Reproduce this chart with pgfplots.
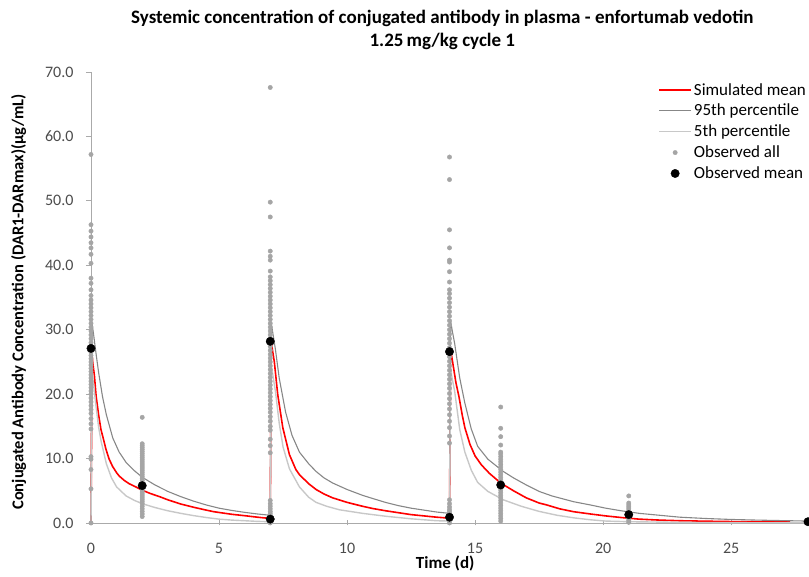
\documentclass[border=0pt]{standalone}
\usepackage{pgfplots}
\pgfplotsset{compat=1.18}
\usepackage{fontspec}
\setmainfont{Carlito}
\definecolor{simred}{RGB}{255,0,0}
\definecolor{p95}{RGB}{135,135,135}
\definecolor{p5}{RGB}{200,200,200}
\definecolor{obsall}{RGB}{165,165,165}
\definecolor{axgray}{RGB}{170,170,170}
\pgfplotsset{
  linelegend/.style={legend image code/.code={\draw[##1] (0pt,0pt) -- (32pt,0pt);}},
  marklegend/.style={legend image code/.code={\draw[mark repeat=2,mark phase=2,##1] plot coordinates {(0pt,0pt) (16pt,0pt) (32pt,0pt)};}},
}
\begin{document}
\begin{tikzpicture}
\begin{axis}[
  at={(0,0)}, anchor=south west,
  scale only axis, width=717pt, height=451pt,
  xmin=0, xmax=28, ymin=0, ymax=70,
  xtick={0,5,...,25}, ytick={0,10,...,70},
  axis lines*=left,
  axis line style={axgray, line width=0.8pt},
  tick style={axgray, line width=0.8pt},
  major tick length=5pt,
  xtick align=center, ytick align=outside,
  clip=false,
  /pgf/number format/assume math mode=true,
  yticklabel style={/pgf/number format/fixed, /pgf/number format/fixed zerofill, /pgf/number format/precision=1, anchor=east, xshift=-9pt},
  ticklabel style={font=\fontsize{16}{18}\selectfont, text=black!70},
  xticklabel style={anchor=center, yshift=-23pt},
  title={Systemic concentration of conjugated antibody in plasma - enfortumab vedotin\\1.25\,mg/kg cycle 1},
  title style={font=\bfseries\fontsize{19}{23}\selectfont, align=center, at={(0.49,1)}, anchor=south, yshift=12.5pt},
  xlabel={Time (d)},
  xlabel style={font=\bfseries\fontsize{17}{19}\selectfont, at={(axis description cs:0.494,-0.0904)}, anchor=center},
  ylabel={Conjugated Antibody Concentration (DAR1-DARmax)(µg/mL)},
  ylabel style={font=\bfseries\fontsize{16.5}{18}\selectfont, at={(axis description cs:-0.101,0.49)}, anchor=center},
  legend style={at={(0.791,1)}, anchor=north west, draw=none, fill=none, inner sep=0pt, row sep=3.6pt, font=\fontsize{17}{19}\selectfont, yshift=-9pt},
  legend cell align=left,
]
% Simulated mean
\addplot[simred, line width=1.6pt, linelegend] coordinates {
(0,0) (0.04,26) (0.08,24.5) (0.13,23.0) (0.2,19.7) (0.3,16.7) (0.39,14.5) (0.5,12.8) (0.58,11.5) (0.7,10.0) (0.84,8.8) (1.0,7.8) (1.1,7.3) (1.3,6.6) (1.49,6.1) (1.75,5.6) (2.0,5.1) (2.3,4.6) (2.67,4.1) (3.0,3.6) (3.5,2.95) (4.0,2.45) (4.5,2.0) (4.8,1.75) (5.5,1.35) (6.1,1.09) (6.5,0.9) (7.0,0.7)
(7.0,0.7) (7.04,28) (7.1,26.5) (7.16,25.0) (7.29,20.0) (7.49,14.8) (7.75,10.6) (8.0,8.3) (8.14,7.5) (8.5,6.1) (8.79,5.2) (9.1,4.5) (9.44,3.9) (10.0,3.2) (10.6,2.6) (11.0,2.25) (11.5,1.9) (12.0,1.6) (12.5,1.3) (13.0,1.1) (13.5,0.9) (14.0,0.75)
(14.04,27) (14.1,25.5) (14.15,24.3) (14.25,21.8) (14.37,19.6) (14.5,16.7) (14.6,14.8) (14.8,12.2) (15.0,10.4) (15.25,9.0) (15.56,7.7) (16.0,6.2) (16.5,5.0) (17.0,3.9) (17.5,3.1) (17.8,2.8) (18.3,2.2) (18.85,1.75) (19.5,1.4) (20.1,1.1) (20.7,0.85) (21.4,0.6) (22.2,0.45) (23,0.35) (24,0.28) (25,0.22) (26,0.18) (27.3,0.15)
};
\addlegendentry{Simulated mean}
% 95th percentile
\addplot[p95, line width=1.1pt, linelegend] coordinates {
(0,0) (0.04,31) (0.1,29.3) (0.2,26.2) (0.3,23.3) (0.45,19.6) (0.6,16.8) (0.85,13.2) (1.1,11.0) (1.37,9.4) (1.7,8.1) (2.0,7.1) (2.5,5.9) (3.0,4.9) (3.5,4.1) (4.0,3.4) (4.5,2.8) (5.0,2.3) (5.5,1.95) (6.0,1.65) (6.5,1.4) (7.0,1.2)
(7.04,31) (7.1,29.5) (7.2,27.0) (7.35,22.5) (7.6,17.2) (7.85,13.6) (8.14,11.0) (8.5,9.2) (8.79,8.0) (9.1,7.0) (9.44,6.2) (10.0,5.2) (10.6,4.3) (11,3.8) (11.5,3.2) (12.0,2.7) (12.5,2.3) (13.0,2.0) (13.5,1.7) (14.0,1.5)
(14.04,31.5) (14.1,30) (14.2,27.9) (14.4,22.5) (14.6,18.6) (14.85,14.6) (15.1,11.9) (15.5,9.9) (16.1,8.0) (16.5,7.0) (17.0,5.9) (17.5,4.9) (18.0,4.2) (18.85,3.3) (19.5,2.8) (20.1,2.3) (20.7,1.9) (21.4,1.5) (22.2,1.2) (23,0.9) (24,0.7) (25,0.55) (26,0.45) (27,0.37) (28,0.3)
};
\addlegendentry{95th percentile}
% 5th percentile
\addplot[p5, line width=1.4pt, linelegend] coordinates {
(0,0) (0.04,23.5) (0.1,21.5) (0.2,18) (0.3,14.8) (0.4,12.6) (0.6,9.2) (0.8,7.0) (1.0,5.6) (1.37,4.2) (1.7,3.5) (2.0,3.0) (2.5,2.4) (3.0,1.9) (3.5,1.5) (4.0,1.15) (4.5,0.85) (5.0,0.6) (5.5,0.45) (6.0,0.35) (6.5,0.25) (7.0,0.2)
(7.04,24.5) (7.1,23) (7.2,20.5) (7.35,15.5) (7.5,11.8) (7.75,8.4) (8.14,5.6) (8.5,4.0) (8.79,3.2) (9.2,2.6) (9.7,2.05) (10.6,1.5) (11.5,1.05) (12.5,0.65) (13.5,0.35) (14.0,0.3)
(14.04,24) (14.1,22.5) (14.2,20.5) (14.4,14.5) (14.6,11.0) (14.85,8.2) (15.1,6.3) (15.5,4.9) (16.1,3.6) (16.8,2.6) (17.5,1.8) (18.2,1.2) (18.85,0.8) (19.5,0.5) (20.1,0.3) (21,0.2) (22,0.15) (23,0.1) (25,0.05) (28,0.03)
};
\addlegendentry{5th percentile}
% Observed all
\addplot[only marks, mark=*, mark size=2.2pt, color=obsall, marklegend] coordinates {
(0,0.0) (0,5.3) (0,8.3) (0,9.9) (0,10.3) (0,14.6) (0,15.4) (0,16.2) (0,17.0) (0,17.6) (0,18.2) (0,18.8) (0,19.4) (0,20.0) (0,20.5) (0,21.0) (0,21.5) (0,22.0) (0,22.5) (0,23.0) (0,23.5) (0,24.0) (0,24.5) (0,25.0) (0,25.5) (0,26.0) (0,26.5) (0,27.0) (0,27.5) (0,28.0) (0,28.6) (0,29.2) (0,29.8) (0,30.4) (0,31.0) (0,31.6) (0,32.2) (0,32.8) (0,33.4) (0,34.0) (0,34.6) (0,35.3) (0,36.2) (0,37.2) (0,38.0) (0,40.3) (0,41.7) (0,42.7) (0,43.5) (0,44.4) (0,45.3) (0,46.3) (0,57.2)
(2,1.0) (2,1.4) (2,1.8) (2,2.2) (2,2.6) (2,3.0) (2,3.3) (2,3.6) (2,3.9) (2,4.2) (2,4.5) (2,4.8) (2,5.1) (2,5.4) (2,5.7) (2,6.0) (2,6.3) (2,6.6) (2,6.9) (2,7.2) (2,7.5) (2,7.8) (2,8.1) (2,8.4) (2,8.7) (2,9.0) (2,9.3) (2,9.6) (2,9.9) (2,10.2) (2,10.5) (2,10.8) (2,11.1) (2,11.4) (2,11.7) (2,12.0) (2,12.3) (2,16.4)
(7,0.0) (7,0.3) (7,0.6) (7,0.9) (7,1.2) (7,1.5) (7,1.8) (7,2.2) (7,2.6) (7,3.0) (7,3.5) (7,10.9) (7,12.0) (7,13.0) (7,14.4) (7,15.0) (7,15.8) (7,16.5) (7,17.2) (7,17.8) (7,18.4) (7,19.0) (7,19.6) (7,20.2) (7,20.8) (7,21.4) (7,22.0) (7,22.6) (7,23.2) (7,23.8) (7,24.4) (7,25.0) (7,25.6) (7,26.2) (7,26.8) (7,27.4) (7,28.0) (7,28.6) (7,29.2) (7,29.8) (7,30.4) (7,31.0) (7,31.6) (7,32.2) (7,32.8) (7,33.4) (7,34.0) (7,34.6) (7,35.2) (7,35.8) (7,36.4) (7,37.0) (7,37.6) (7,38.2) (7,39.1) (7,40.8) (7,41.4) (7,42.2) (7,47.5) (7,49.8) (7,67.6)
(14,0.0) (14,0.3) (14,0.6) (14,0.9) (14,1.2) (14,1.5) (14,1.8) (14,2.1) (14,2.5) (14,3.0) (14,3.6) (14,12.4) (14,13.5) (14,14.8) (14,15.8) (14,16.8) (14,17.7) (14,18.5) (14,19.3) (14,20.1) (14,20.9) (14,21.6) (14,22.3) (14,23.0) (14,23.7) (14,24.4) (14,25.1) (14,25.8) (14,26.5) (14,27.2) (14,27.9) (14,28.6) (14,29.3) (14,30.0) (14,30.7) (14,31.4) (14,32.1) (14,32.8) (14,33.5) (14,34.2) (14,34.9) (14,35.6) (14,36.2) (14,37.4) (14,39.0) (14,40.5) (14,40.8) (14,42.7) (14,45.5) (14,53.3) (14,56.8)
(16,0.3) (16,0.7) (16,1.1) (16,1.5) (16,1.9) (16,2.3) (16,2.7) (16,3.1) (16,3.5) (16,3.9) (16,4.3) (16,4.7) (16,5.1) (16,5.5) (16,5.9) (16,6.3) (16,6.7) (16,7.1) (16,7.5) (16,7.9) (16,8.3) (16,8.7) (16,9.1) (16,9.5) (16,9.9) (16,10.3) (16,10.7) (16,11.0) (16,12.1) (16,13.4) (16,14.7) (16,18.0)
(21,0.1) (21,0.4) (21,0.7) (21,1.0) (21,1.3) (21,1.6) (21,1.9) (21,2.2) (21,2.5) (21,2.8) (21,3.1) (21,4.2)
};
\addlegendentry{Observed all}
% Observed mean
\addplot[only marks, mark=*, mark size=4.2pt, color=black, marklegend] coordinates {
(0,27.1) (2,5.8) (7,0.6) (7,28.2) (14,0.9) (14,26.6) (16,5.9) (21,1.3) (28,0.2)
};
\addlegendentry{Observed mean}
\end{axis}
\pgfresetboundingbox
\path[use as bounding box] (-91pt,-54pt) rectangle (718pt,523pt);
\end{tikzpicture}
\end{document}
